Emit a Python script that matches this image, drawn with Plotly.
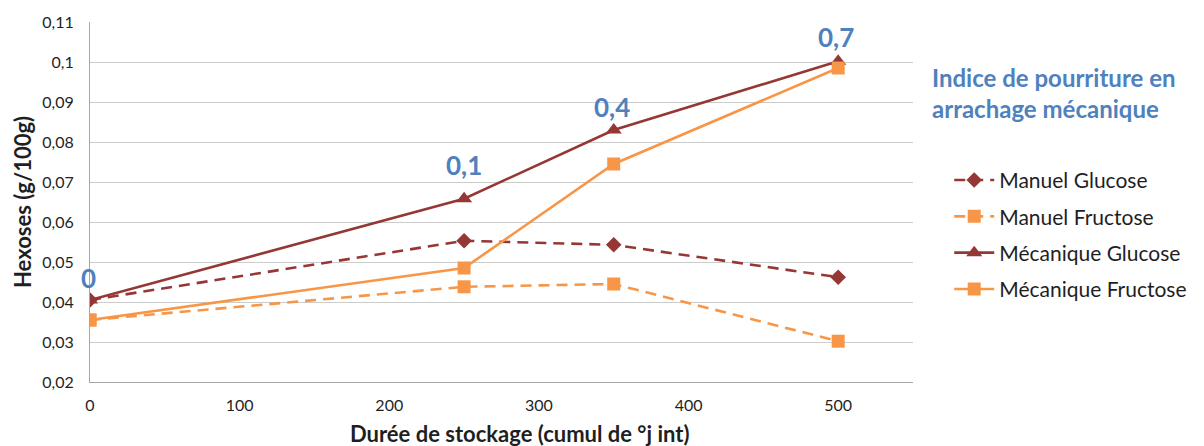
import plotly.graph_objects as go

x_days = [0, 250, 350, 500]
manuel_glucose = [0.0405, 0.0553, 0.0543, 0.0462]
manuel_fructose = [0.0355, 0.0438, 0.0445, 0.0302]
meca_glucose = [0.0405, 0.0658, 0.0830, 0.1002]
meca_fructose = [0.0355, 0.0485, 0.0745, 0.0985]
rot_index = ["0", "0,1", "0,4", "0,7"]

y_ticks = [0.02, 0.03, 0.04, 0.05, 0.06, 0.07, 0.08, 0.09, 0.10, 0.11]
y_ticktext = ["0,02", "0,03", "0,04", "0,05", "0,06", "0,07", "0,08", "0,09", "0,1", "0,11"]
x_ticks = [0, 100, 200, 300, 400, 500]

RED = "#953735"
ORANGE = "#F79646"
BLUE = "#4F81BD"
TXT = "#1F1F1F"
FONT = "Lato, Carlito, Calibri, sans-serif"

fig = go.Figure()
series = [
    ("Manuel Glucose", manuel_glucose, RED, "11px,7px", "diamond", 12),
    ("Manuel Fructose", manuel_fructose, ORANGE, "11px,7px", "square", 13),
    ("Mécanique Glucose", meca_glucose, RED, "solid", "triangle-up", 14),
    ("Mécanique Fructose", meca_fructose, ORANGE, "solid", "square", 13),
]
for i, (name, ys, col, dash, sym, size) in enumerate(series):
    fig.add_trace(go.Scatter(
        x=x_days, y=ys, name=name, mode="lines+markers",
        line=dict(color=col, width=2.6, dash=dash),
        marker=dict(symbol=sym, size=size, color=col),
        legendgroup=f"g{i}",
    ))

label_shift = [22, 34, 23, 24]
label_xshift = [-2, 0, -2, -2]
for xv, yv, t, ys, xs in zip(x_days, meca_glucose, rot_index, label_shift, label_xshift):
    fig.add_annotation(x=xv, y=yv, text=f"<b>{t}</b>", showarrow=False, yshift=ys, xshift=xs,
                       font=dict(family=FONT, size=26, color=BLUE), yanchor="middle")

fig.add_annotation(xref="paper", yref="paper", x=1.021, y=0.892, xanchor="left", yanchor="top",
                   text="<b>Indice de pourriture en<br>arrachage mécanique</b>", showarrow=False, align="left",
                   font=dict(family=FONT, size=24, color=BLUE))

fig.add_annotation(xref="paper", yref="paper", x=0.5225, y=-0.1417, xanchor="center", yanchor="middle",
                   text="<b>Durée de stockage (cumul de °j int)</b>", showarrow=False,
                   font=dict(family=FONT, size=22, color=TXT))
fig.add_annotation(xref="paper", yref="paper", x=-0.0826, y=0.5, xanchor="center", yanchor="middle",
                   text="<b>Hexoses (g/100g)</b>", showarrow=False, textangle=-90,
                   font=dict(family=FONT, size=22, color=TXT))

fig.update_layout(
    width=1196, height=438,
    margin=dict(l=82, r=283, t=14, b=64),
    plot_bgcolor="white", paper_bgcolor="white",
    font=dict(family=FONT, size=16, color=TXT),
    showlegend=True,
    legend=dict(x=1.044, y=0.617, xanchor="left", yanchor="top", traceorder="grouped",
                tracegroupgap=6, font=dict(family=FONT, size=21, color=TXT),
                itemwidth=40),
    xaxis=dict(range=[0, 550], tickvals=x_ticks, showgrid=False, showline=True,
               linecolor="#A6A6A6", linewidth=1, ticks="", zeroline=False, automargin=False,
               tickfont=dict(size=16), ticklabelstandoff=9),
    yaxis=dict(range=[0.02, 0.11], tickvals=y_ticks, ticktext=y_ticktext, showgrid=True,
               gridcolor="#CCCCCC", gridwidth=1, showline=True, linecolor="#A6A6A6", automargin=False,
               zeroline=False, ticks="", tickfont=dict(size=16), ticklabelstandoff=12),
)

fig.write_html("out.html")
